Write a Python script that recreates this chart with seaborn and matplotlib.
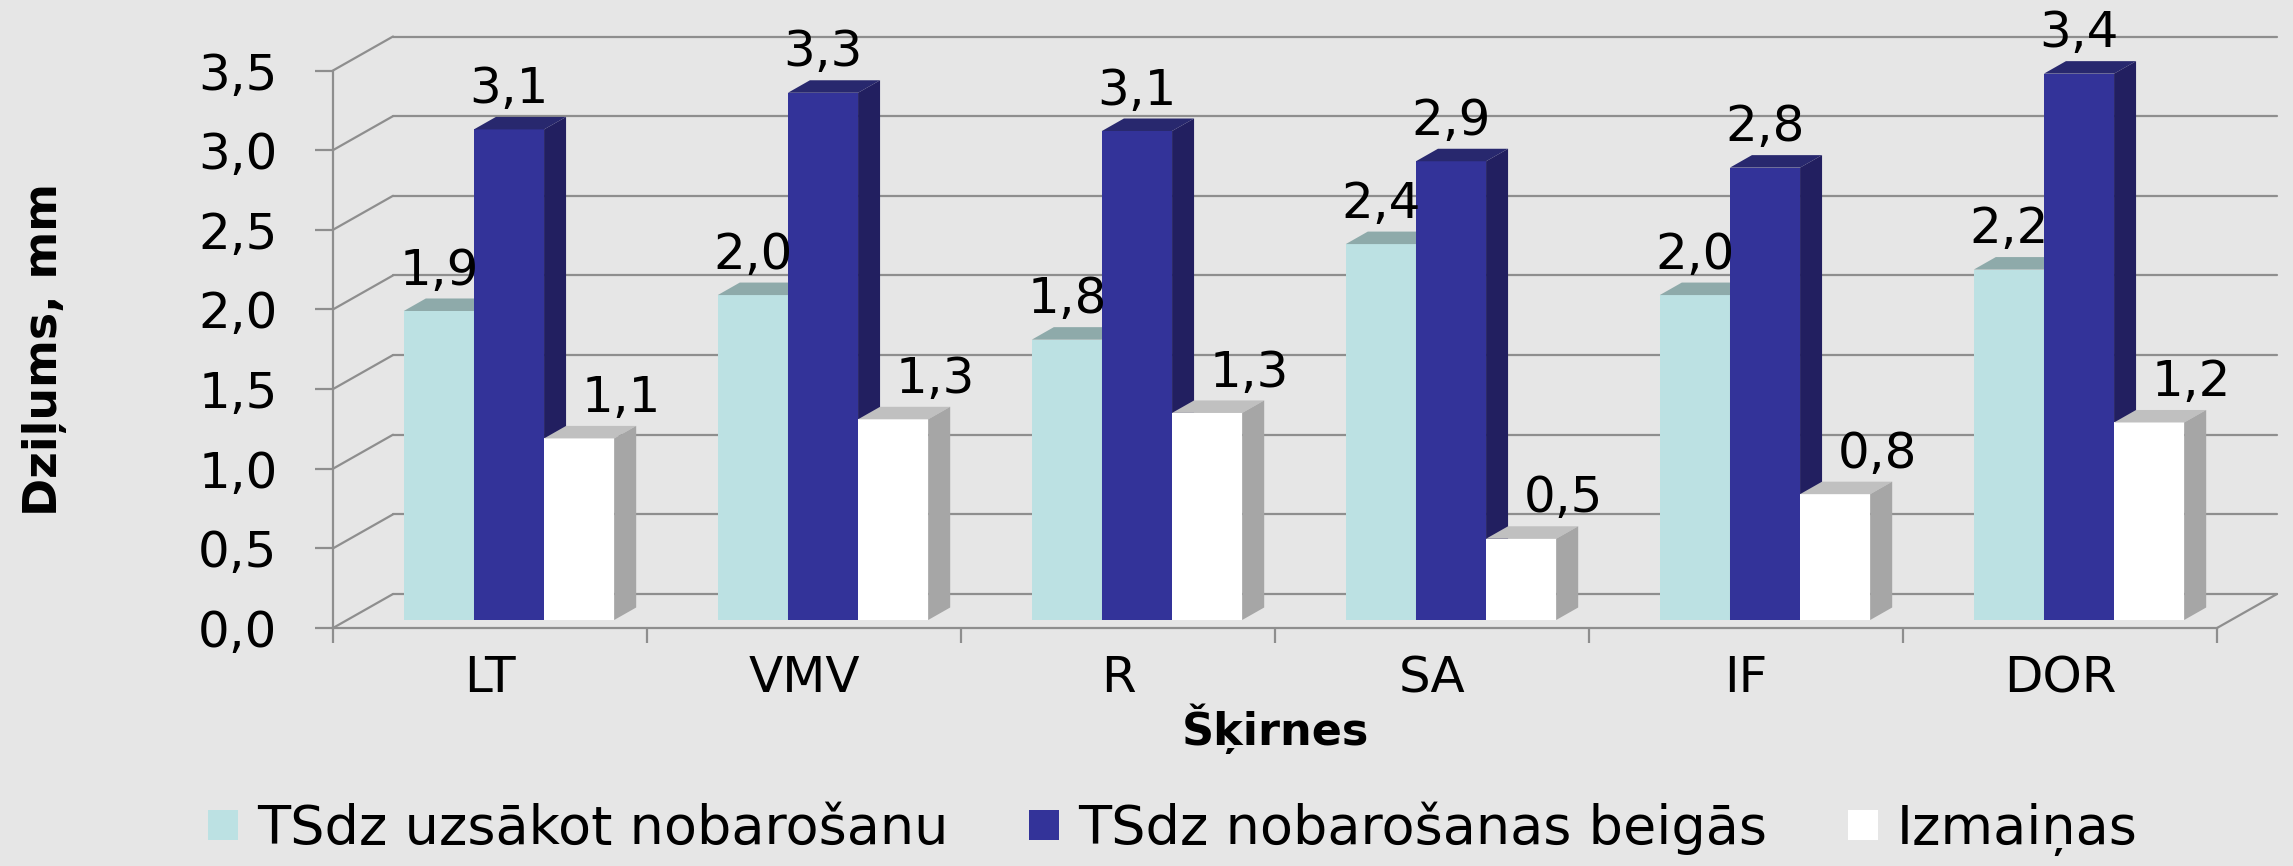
import matplotlib
matplotlib.use("Agg")
import matplotlib.pyplot as plt
import seaborn as sns
import pandas as pd
from matplotlib.patches import Polygon, Patch
from matplotlib.ticker import FixedLocator

# -----------------------------
# Data
# -----------------------------
categories = ["LT", "VMV", "R", "SA", "IF", "DOR"]
series_names = ["TSdz uzsākot nobarošanu", "TSdz nobarošanas beigās", "Izmaiņas"]
start_vals = [1.94, 2.04, 1.76, 2.36, 2.04, 2.20]
end_vals = [3.08, 3.31, 3.07, 2.88, 2.84, 3.43]
change_vals = [1.14, 1.26, 1.30, 0.51, 0.79, 1.24]
y_ticks = [0.0, 0.5, 1.0, 1.5, 2.0, 2.5, 3.0, 3.5]
x_title = "Šķirnes"
y_title = "Dziļums, mm"

# -----------------------------
# Style
# -----------------------------
BG = "#e6e6e6"
GRID = "#8e8e8e"
front_colors = ["#bce1e3", "#333399", "#ffffff"]
top_colors = ["#8eaaaa", "#28286e", "#c0c0c0"]
side_colors = ["#9fbfc0", "#221f60", "#a6a6a6"]
label_dx = [0, 0, 42]  # px shift of value labels per series

W, H, DPI = 2293, 866, 100
AX_L, AX_R, AX_Y0, AX_Y1 = 333, 2217, 628, 70.5  # pixel frame of the front axes

sns.set_theme(style="white")
plt.rcParams["font.family"] = ["DejaVu Sans"]
plt.rcParams.update({"text.color": "black", "axes.labelcolor": "black",
                     "xtick.labelcolor": "black", "ytick.labelcolor": "black"})

df = pd.DataFrame({
    "cat": categories * 3,
    "series": [s for s in series_names for _ in categories],
    "value": start_vals + end_vals + change_vals,
})

fig = plt.figure(figsize=(W / DPI, H / DPI), dpi=DPI, facecolor=BG)
ax = fig.add_axes([AX_L / W, 1 - AX_Y0 / H, (AX_R - AX_L) / W, (AX_Y0 - AX_Y1) / H])
ax.set_facecolor("none")

sns.barplot(data=df, x="cat", y="value", hue="series", hue_order=series_names,
            palette=dict(zip(series_names, front_colors)), width=0.67,
            saturation=1, errorbar=None, linewidth=0, edgecolor="none", ax=ax)

ax.set_xlim(-0.5, len(categories) - 0.5)
ax.set_ylim(0, 3.5)

# pixel -> data units
ux = (len(categories)) / (AX_R - AX_L)
uy = 3.5 / (AX_Y0 - AX_Y1)

# -----------------------------
# 3D walls (back wall gridlines, side wall, floor)
# -----------------------------
wdx, wdy = 60 * ux, 34 * uy
x0, x1 = -0.5, len(categories) - 0.5
for t in y_ticks:
    ax.plot([x0 + wdx, x1 + wdx], [t + wdy, t + wdy], color=GRID, lw=1.6,
            clip_on=False, zorder=1)
    ax.plot([x0, x0 + wdx], [t, t + wdy], color=GRID, lw=1.6, clip_on=False, zorder=1)
ax.plot([x1, x1 + wdx], [0, wdy], color=GRID, lw=1.6, clip_on=False, zorder=1)

# -----------------------------
# 3D bars: shift front faces, add top and side faces
# -----------------------------
bdx, bdy = 22 * ux, 12.5 * uy
shift_x, shift_y = 19 * ux, 8 * uy
for k, cont in enumerate(ax.containers):
    z = 3 + k
    for bar in cont:
        bar.set_x(bar.get_x() + shift_x)
        bar.set_y(shift_y)
        bar.set_zorder(z)
        bx0 = bar.get_x()
        bx1 = bx0 + bar.get_width()
        yb = bar.get_y()
        yt = yb + bar.get_height()
        top = Polygon([(bx0, yt), (bx1, yt), (bx1 + bdx, yt + bdy), (bx0 + bdx, yt + bdy)],
                      closed=True, facecolor=top_colors[k], edgecolor="none",
                      zorder=z, clip_on=False)
        side = Polygon([(bx1, yb), (bx1 + bdx, yb + bdy), (bx1 + bdx, yt + bdy), (bx1, yt)],
                       closed=True, facecolor=side_colors[k], edgecolor="none",
                       zorder=z, clip_on=False)
        ax.add_patch(top)
        ax.add_patch(side)
        txt = f"{bar.get_height():.1f}".replace(".", ",")
        ax.annotate(txt, (bx0 + bar.get_width() / 2 + label_dx[k] * ux, yt + bdy),
                    xytext=(0, 10), textcoords="offset points", ha="center",
                    va="baseline", fontsize=36, color="black", zorder=10,
                    annotation_clip=False)

# -----------------------------
# Axes, ticks, labels
# -----------------------------
for s in ["top", "right"]:
    ax.spines[s].set_visible(False)
for s in ["left", "bottom"]:
    ax.spines[s].set_color(GRID)
    ax.spines[s].set_linewidth(1.6)
    ax.spines[s].set_zorder(2)

ax.set_yticks(y_ticks)
ax.set_yticklabels([f"{t:.1f}".replace(".", ",") for t in y_ticks])
ax.tick_params(axis="y", direction="out", length=13, width=1.6, color=GRID,
               pad=27, labelsize=36, labelcolor="black", left=True)
ax.set_xticks(range(len(categories)))
ax.set_xticklabels(categories)
ax.xaxis.set_minor_locator(FixedLocator([i - 0.5 for i in range(len(categories) + 1)]))
ax.tick_params(axis="x", which="major", length=0, pad=19, labelsize=36,
               labelcolor="black")
ax.tick_params(axis="x", which="minor", direction="out", length=11, width=1.6,
               color=GRID, bottom=True)

ax.set_xlabel(x_title, fontsize=32, fontweight="bold", color="black")
ax.xaxis.set_label_coords(0.5, -0.135)
ax.set_ylabel(y_title, fontsize=33, fontweight="bold", color="black")
ax.yaxis.label.set_va("center")
ax.yaxis.set_label_coords(-0.153, 0.5)

# -----------------------------
# Legend
# -----------------------------
if ax.get_legend() is not None:
    ax.get_legend().remove()
handles = [Patch(facecolor=c, edgecolor="none") for c in front_colors]
fig.legend(handles, series_names, loc="center", bbox_to_anchor=(1173 / W, 1 - 829 / H),
           ncol=3, frameon=False, fontsize=39, handlelength=0.55, handleheight=0.5,
           handletextpad=0.35, columnspacing=1.5, labelcolor="black",
           borderpad=0.1)

fig.savefig("out.png", dpi=DPI, facecolor=BG)
plt.close(fig)
